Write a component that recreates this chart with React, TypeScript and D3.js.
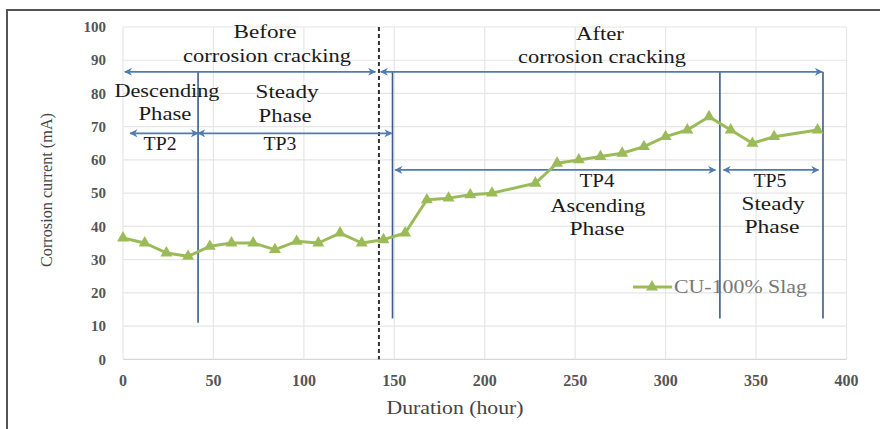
import React from "react";
import * as d3 from "d3";

// measured series (hours vs corrosion current)
const hours = [0, 12, 24, 36, 48, 60, 72, 84, 96, 108, 120, 132, 144, 156, 168, 180, 192, 204, 228, 240, 252, 264, 276, 288, 300, 312, 324, 336, 348, 360, 384];
const current = [36.5, 35, 32, 31, 34, 35, 35, 33, 35.5, 35, 38, 35, 36, 38, 48, 48.5, 49.5, 50, 53, 59, 60, 61, 62, 64, 67, 69, 73, 69, 65, 67, 69];
const seriesName = "CU-100% Slag";

const xTicks = [0, 50, 100, 150, 200, 250, 300, 350, 400];
const yTicks = [0, 10, 20, 30, 40, 50, 60, 70, 80, 90, 100];

// annotation geometry in data units
const crackHour = 141.5;
const phaseLines = [
  { hour: 41.5, from: 86.5, to: 11 },
  { hour: 149, from: 86.5, to: 12.3 },
  { hour: 330, from: 86.5, to: 12.3 },
  { hour: 387, from: 86.5, to: 12.3 },
];
const spanArrows = [
  { x1: 1, x2: 139.5, y: 86.5 },
  { x1: 142.5, x2: 386.5, y: 86.5 },
  { x1: 4, x2: 41.5, y: 68 },
  { x1: 41.5, x2: 148.5, y: 68 },
  { x1: 150.5, x2: 327.5, y: 57 },
  { x1: 332, x2: 384.5, y: 57 },
];
const labels = [
  { text: "Before", hour: 78.5, value: 96.6, w: 63 },
  { text: "corrosion cracking", hour: 79.6, value: 89.5, w: 168 },
  { text: "After", hour: 263.7, value: 96.1, w: 48 },
  { text: "corrosion cracking", hour: 264.8, value: 89.2, w: 168 },
  { text: "Descending", hour: 24.3, value: 78.9, w: 105 },
  { text: "Phase", hour: 23.2, value: 72, w: 53 },
  { text: "TP2", hour: 20.5, value: 63, w: 33 },
  { text: "Steady", hour: 90.7, value: 78.6, w: 63 },
  { text: "Phase", hour: 89.6, value: 71.4, w: 53 },
  { text: "TP3", hour: 86.8, value: 63, w: 33 },
  { text: "TP4", hour: 262, value: 51.9, w: 35 },
  { text: "Ascending", hour: 262.6, value: 44.3, w: 95 },
  { text: "Phase", hour: 262, value: 37.4, w: 55 },
  { text: "TP5", hour: 357.7, value: 51.9, w: 33 },
  { text: "Steady", hour: 359.4, value: 45, w: 63 },
  { text: "Phase", hour: 358.8, value: 38, w: 55 },
];

const W = 880;
const H = 429;
const serif = { fontFamily: "'Liberation Serif', serif" };
const green = "#9bbb59";
const blue = "#4f7bb0";
const navy = "#3d5b85";

export default function App() {
  const x = d3.scaleLinear().domain([0, 400]).range([123, 846.5]);
  const y = d3.scaleLinear().domain([0, 100]).range([359.3, 27]);

  const pts = hours.map((h, i) => [h, current[i]] as [number, number]);
  const line = d3
    .line<[number, number]>()
    .x((d) => x(d[0]))
    .y((d) => y(d[1]));
  const tri = d3.symbol().type(d3.symbolTriangle).size(62)();

  return (
    <svg width={W} height={H} style={{ position: "absolute", left: 0, top: 0, background: "#fff" }}>
      <defs>
        <marker id="ah" viewBox="0 0 10 10" refX="9" refY="5" markerWidth="9" markerHeight="8" markerUnits="userSpaceOnUse" orient="auto-start-reverse">
          <path d="M0,0 L10,5 L0,10 L3,5 Z" fill={blue} />
        </marker>
      </defs>
      <rect x={7} y={10} width={900} height={440} fill="none" stroke="#555" strokeWidth={2} />

      {/* grid */}
      {yTicks.map((t) => (
        <line key={"gy" + t} x1={x(0)} x2={x(400)} y1={y(t)} y2={y(t)} stroke={t === 0 ? "#d6d6d6" : "#e6e6e6"} strokeWidth={1.2} />
      ))}
      {xTicks.map((t) => (
        <line key={"gx" + t} x1={x(t)} x2={x(t)} y1={y(0)} y2={y(100)} stroke="#e6e6e6" strokeWidth={1.2} />
      ))}

      {/* tick labels */}
      {yTicks.map((t) => (
        <text key={"ty" + t} x={106} y={y(t)} dy="0.35em" textAnchor="end" fontSize={15} fontWeight="bold" fill="#555" style={serif}>
          {t}
        </text>
      ))}
      {xTicks.map((t) => (
        <text key={"tx" + t} x={x(t)} y={386} textAnchor="middle" fontSize={16} fontWeight="bold" fill="#555" style={serif}>
          {t}
        </text>
      ))}

      <text transform={`translate(52,190) rotate(-90)`} textAnchor="middle" fontSize={17} fill="#444" style={serif} textLength={154} lengthAdjust="spacingAndGlyphs">
        Corrosion current (mA)
      </text>
      <text x={455} y={414} textAnchor="middle" fontSize={18} fill="#444" style={serif} textLength={137} lengthAdjust="spacingAndGlyphs">
        Duration (hour)
      </text>

      {/* crack line */}
      <line x1={x(crackHour)} x2={x(crackHour)} y1={y(100)} y2={y(0)} stroke="#333" strokeWidth={2} strokeDasharray="4,3" />

      {/* phase boundaries */}
      {phaseLines.map((p, i) => (
        <line key={"pl" + i} x1={x(p.hour)} x2={x(p.hour)} y1={y(p.from)} y2={y(p.to)} stroke={navy} strokeWidth={1.6} />
      ))}

      {/* span arrows */}
      {spanArrows.map((a, i) => (
        <line key={"ar" + i} x1={x(a.x1)} x2={x(a.x2)} y1={y(a.y)} y2={y(a.y)} stroke={blue} strokeWidth={1.6} markerStart="url(#ah)" markerEnd="url(#ah)" />
      ))}

      {/* series */}
      <path d={line(pts) || ""} fill="none" stroke={green} strokeWidth={3} strokeLinejoin="round" />
      {pts.map((d, i) => (
        <path key={"m" + i} d={tri || ""} transform={`translate(${x(d[0])},${y(d[1])})`} fill={green} />
      ))}

      {/* annotation text */}
      {labels.map((l, i) => (
        <text key={"lb" + i} x={x(l.hour)} y={y(l.value)} textAnchor="middle" fontSize={18} fill="#1a1a1a" style={serif} textLength={l.w} lengthAdjust="spacingAndGlyphs">
          {l.text}
        </text>
      ))}

      {/* legend */}
      <line x1={633} x2={672} y1={287} y2={287} stroke={green} strokeWidth={3} />
      <path d={tri || ""} transform="translate(652,287)" fill={green} />
      <text x={674} y={293} fontSize={18} fill="#777" style={serif} textLength={133} lengthAdjust="spacingAndGlyphs">
        {seriesName}
      </text>
    </svg>
  );
}
